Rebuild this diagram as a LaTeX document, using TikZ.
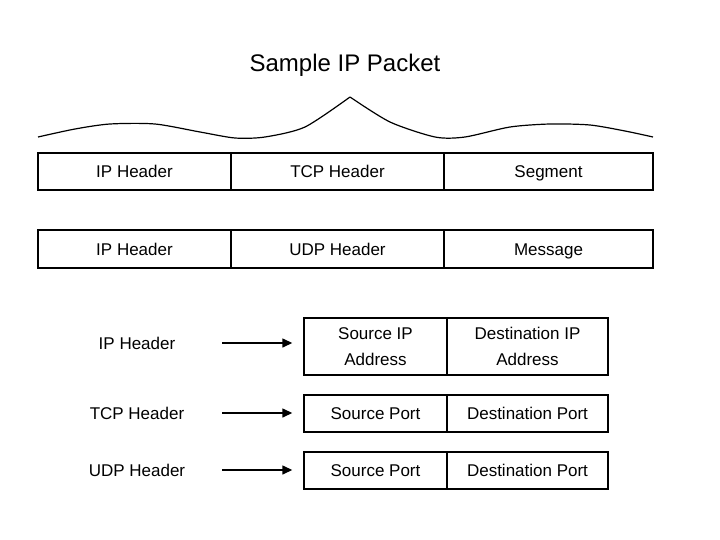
\documentclass[tikz,border=0pt]{standalone}
\usepackage{fontspec}
\setmainfont{Liberation Sans}
\usetikzlibrary{arrows.meta}
\begin{document}
\begin{tikzpicture}[x=1pt,y=-1pt,
  box/.style={draw,line width=1.4pt,minimum height=#1,inner sep=0pt,
    font=\fontsize{17}{26}\selectfont,align=center},
  cell/.style={box=#1,text height=15pt,text depth=3pt},
  lbl/.style={inner sep=0pt,text height=15pt,text depth=3pt,font=\fontsize{17}{21}\selectfont},
  arr/.style={line width=1.4pt,-{Triangle[length=10pt,width=9pt]}}]
\useasboundingbox (0,0) rectangle (720,540);
\node[inner sep=0pt,font=\fontsize{24}{28}\selectfont] (title) at (345,65) {Sample IP Packet};
\draw[line width=1.2pt] plot[smooth,tension=0.45] coordinates {(38,137) (75,129) (110,124) (155,124) (200,132) (235,138) (265,137) (305,127) (350,97)};
\draw[line width=1.2pt] plot[smooth,tension=0.45] coordinates {(350,97) (390,122) (435,137) (465,137) (510,127) (550,124) (590,125) (625,131) (653,137)};
% row 1
\node[cell=37pt,minimum width=193pt] (r1a) at (134.5,171.5) {IP Header};
\node[cell=37pt,minimum width=213pt] (r1b) at (337.5,171.5) {TCP Header};
\node[cell=37pt,minimum width=209pt] (r1c) at (548.5,171.5) {Segment};
% row 2
\node[cell=38pt,minimum width=193pt] (r2a) at (134.5,249) {IP Header};
\node[cell=38pt,minimum width=213pt] (r2b) at (337.5,249) {UDP Header};
\node[cell=38pt,minimum width=209pt] (r2c) at (548.5,249) {Message};
% bottom
\node[lbl] (l1) at (137,343) {IP Header};
\node[lbl] (l2) at (137,413) {TCP Header};
\node[lbl] (l3) at (137,470) {UDP Header};
\node[box=57pt,minimum width=143pt] (s1) at (375.5,346.5) {Source IP\\Address};
\node[box=57pt,minimum width=161pt] (d1) at (527.5,346.5) {Destination IP\\Address};
\node[cell=37pt,minimum width=143pt] (s2) at (375.5,413.5) {Source Port};
\node[cell=37pt,minimum width=161pt] (d2) at (527.5,413.5) {Destination Port};
\node[cell=37pt,minimum width=143pt] (s3) at (375.5,470.5) {Source Port};
\node[cell=37pt,minimum width=161pt] (d3) at (527.5,470.5) {Destination Port};
\coordinate (a1s) at (222,343); \coordinate (a2s) at (222,413); \coordinate (a3s) at (222,470);
\draw[arr] (a1s) -- ([xshift=-11pt]a1s -| s1.west);
\draw[arr] (a2s) -- ([xshift=-11pt]a2s -| s2.west);
\draw[arr] (a3s) -- ([xshift=-11pt]a3s -| s3.west);
\end{tikzpicture}
\end{document}
